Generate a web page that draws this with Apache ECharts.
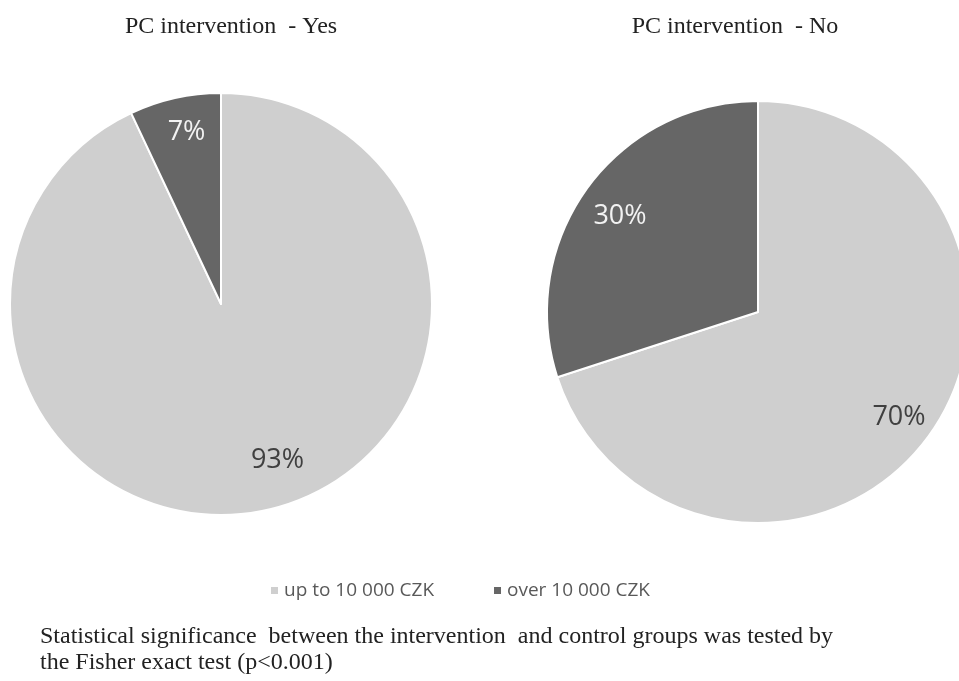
<!DOCTYPE html>
<html><head><meta charset="utf-8">
<script src="https://cdn.jsdelivr.net/npm/echarts@6/dist/echarts.min.js"></script>
<style>html,body{margin:0;padding:0;background:#fff}#c{width:959px;height:681px}</style>
</head><body><div id="c"></div>
<script>
const categories = ['up to 10 000 CZK', 'over 10 000 CZK'];
const yesValues = [93, 7];
const noValues = [70, 30];
const panelTitles = ['PC intervention  - Yes', 'PC intervention  - No'];
const footnote = 'Statistical significance  between the intervention  and control groups was tested by\nthe Fisher exact test (p<0.001)';

const colors = ['#cfcfcf', '#666666'];
const labelColors = ['#404040', '#f2f2f2'];
const R = 211;

function mainSeries(vals, center) {
  return {
    type: 'pie', center: center, radius: [0, R], startAngle: 90, clockwise: true,
    silent: true, label: {show: false}, labelLine: {show: false},
    itemStyle: {borderColor: '#ffffff', borderWidth: 2},
    data: vals.map((v, i) => ({name: categories[i], value: v, itemStyle: {color: colors[i]}}))
  };
}
function labelSeries(vals, center, offsets) {
  return {
    type: 'pie', center: center, radius: [0, R * 1.6], startAngle: 90, clockwise: true,
    silent: true, z: 5, legendHoverLink: false,
    label: {show: true, position: 'inside', formatter: '{c}%', fontFamily: 'Open Sans', fontSize: 27},
    labelLine: {show: false},
    itemStyle: {color: 'rgba(0,0,0,0)', borderWidth: 0},
    emphasis: {disabled: true},
    data: vals.map((v, i) => ({name: categories[i], value: v,
      itemStyle: {color: 'rgba(0,0,0,0)'}, label: {color: labelColors[i], offset: offsets[i]}}))
  };
}

const chart = echarts.init(document.getElementById('c'), null, {renderer: 'canvas'});
chart.setOption({
  animation: false,
  backgroundColor: '#ffffff',
  title: [
    {text: panelTitles[0], left: 226, top: 10, textAlign: 'center',
     textStyle: {fontFamily: 'Liberation Serif', fontWeight: 'normal', fontSize: 24, color: '#222'}},
    {text: panelTitles[1], left: 730, top: 10, textAlign: 'center',
     textStyle: {fontFamily: 'Liberation Serif', fontWeight: 'normal', fontSize: 24, color: '#222'}},
    {text: footnote, left: 35, top: 619,
     textStyle: {fontFamily: 'Liberation Serif', fontWeight: 'normal', fontSize: 24, lineHeight: 26, color: '#222'}}
  ],
  legend: {
    data: categories, left: 264, top: 576, icon: 'rect', itemWidth: 9, itemHeight: 9,
    itemGap: 58, selectedMode: false,
    textStyle: {fontFamily: 'Open Sans', fontSize: 19, color: '#595959'}
  },
  series: [
    mainSeries(yesValues, [221, 304]),
    mainSeries(noValues, [758, 312]),
    labelSeries(yesValues, [221, 304], [[19, -11], [3, -4]]),
    labelSeries(noValues, [758, 312], [[2, 4], [1, 5]])
  ]
});
</script></body></html>
